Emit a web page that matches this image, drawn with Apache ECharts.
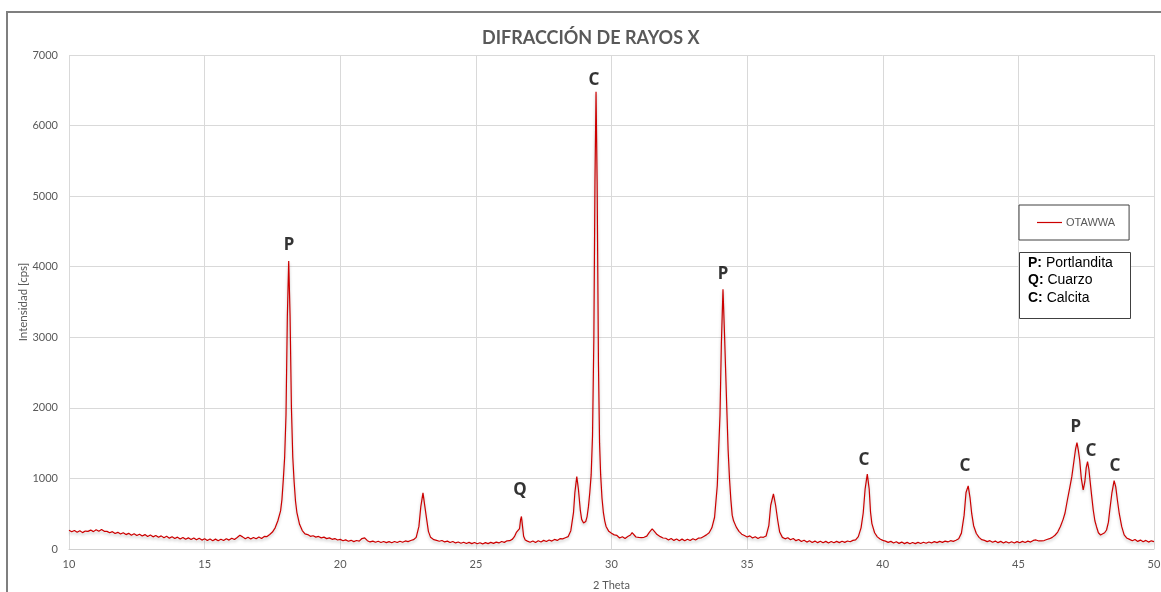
<!DOCTYPE html>
<html>
<head>
<meta charset="utf-8">
<script src="https://cdn.jsdelivr.net/npm/echarts@6/dist/echarts.min.js"></script>
<style>
html,body{margin:0;padding:0;background:#fff;overflow:hidden;}
#chart{width:1161px;height:592px;}
</style>
</head>
<body>
<div id="chart"></div>
<script>
// 2θ positions (degrees)
const twoTheta = [
10.0,10.1,10.2,10.3,10.4,10.5,10.6,10.7,10.8,10.9,11.0,11.1,11.2,11.3,11.4,11.5,11.6,11.7,11.8,11.9,
12.0,12.1,12.2,12.3,12.4,12.5,12.6,12.7,12.8,12.9,13.0,13.1,13.2,13.3,13.4,13.5,13.6,13.7,13.8,13.9,
14.0,14.1,14.2,14.3,14.4,14.5,14.6,14.7,14.8,14.9,15.0,15.1,15.2,15.3,15.4,15.5,15.6,15.7,15.8,15.9,
16.0,16.1,16.2,16.3,16.4,16.5,16.6,16.7,16.8,16.9,17.0,17.1,17.2,17.3,17.4,17.5,17.6,17.7,17.8,17.85,
17.9,17.95,18.0,18.05,18.1,18.15,18.2,18.25,18.3,18.35,18.4,18.5,18.6,18.7,18.8,18.9,19.0,19.1,19.2,19.3,
19.4,19.5,19.6,19.7,19.8,19.9,20.0,20.1,20.2,20.3,20.4,20.5,20.6,20.7,20.8,20.85,20.9,21.0,21.1,21.2,
21.3,21.4,21.5,21.6,21.7,21.8,21.9,22.0,22.1,22.2,22.3,22.4,22.5,22.6,22.7,22.8,22.9,22.97,23.05,23.12,
23.19,23.25,23.33,23.45,23.55,23.65,23.75,23.85,23.95,24.05,24.15,24.25,24.35,24.45,24.55,24.65,24.75,24.85,24.95,25.05,
25.15,25.25,25.35,25.45,25.55,25.65,25.75,25.85,25.95,26.05,26.15,26.25,26.35,26.42,26.5,26.56,26.61,26.65,26.68,26.72,
26.76,26.82,26.9,27.0,27.1,27.2,27.3,27.4,27.5,27.6,27.7,27.8,27.9,28.0,28.1,28.2,28.3,28.4,28.5,28.6,
28.65,28.72,28.78,28.85,28.9,28.97,29.05,29.1,29.15,29.2,29.25,29.3,29.35,29.39,29.43,29.47,29.52,29.56,29.6,29.65,
29.7,29.75,29.8,29.9,30.0,30.1,30.2,30.3,30.4,30.5,30.6,30.7,30.76,30.82,30.9,31.0,31.1,31.2,31.3,31.4,
31.5,31.58,31.68,31.8,31.9,32.0,32.1,32.2,32.3,32.4,32.5,32.6,32.7,32.8,32.9,33.0,33.1,33.2,33.3,33.4,
33.5,33.6,33.7,33.8,33.9,34.0,34.05,34.11,34.17,34.25,34.3,34.35,34.4,34.45,34.5,34.6,34.7,34.8,34.9,35.0,
35.1,35.2,35.3,35.4,35.5,35.6,35.7,35.8,35.87,35.97,36.05,36.13,36.2,36.3,36.4,36.5,36.6,36.7,36.8,36.9,
37.0,37.1,37.2,37.3,37.4,37.5,37.6,37.7,37.8,37.9,38.0,38.1,38.2,38.3,38.4,38.5,38.6,38.7,38.8,38.9,
39.0,39.1,39.2,39.28,39.35,39.43,39.5,39.55,39.6,39.7,39.8,39.9,40.0,40.1,40.2,40.3,40.4,40.5,40.6,40.7,
40.8,40.9,41.0,41.1,41.2,41.3,41.4,41.5,41.6,41.7,41.8,41.9,42.0,42.1,42.2,42.3,42.4,42.5,42.6,42.7,
42.8,42.9,43.0,43.07,43.15,43.22,43.28,43.35,43.45,43.55,43.65,43.75,43.85,43.95,44.05,44.15,44.25,44.35,44.45,44.55,
44.65,44.75,44.85,44.95,45.05,45.15,45.25,45.35,45.45,45.55,45.65,45.75,45.85,45.95,46.05,46.15,46.25,46.35,46.45,46.55,
46.65,46.72,46.8,46.9,46.97,47.05,47.11,47.16,47.21,47.26,47.32,47.39,47.45,47.5,47.55,47.6,47.64,47.7,47.76,47.82,
47.88,47.95,48.03,48.1,48.18,48.25,48.32,48.37,48.45,48.53,48.59,48.65,48.72,48.81,48.9,48.99,49.1,49.2,49.3,49.4,
49.5,49.6,49.7,49.8,49.9,50.0
];
// intensity (cps)
const intensity = [
266,244,262,238,258,232,254,250,268,246,274,252,276,250,250,230,246,220,236,212,
230,204,222,196,216,190,210,184,204,178,198,172,192,166,186,160,180,154,174,148,
168,142,164,138,158,134,156,130,152,126,146,120,142,118,140,116,138,120,146,126,
152,134,164,195,172,144,166,142,164,144,170,150,178,176,205,240,300,400,540,700,
980,1300,1900,3300,4080,3300,2000,1300,950,680,520,350,262,215,204,180,188,168,178,158,
168,147,158,137,148,127,136,117,129,110,123,105,120,112,148,172,158,118,100,112,
95,109,92,106,90,105,89,106,92,110,96,114,104,120,132,165,320,600,795,600,
410,250,165,132,122,110,120,100,112,92,106,86,100,82,96,78,94,76,92,74,
88,72,90,76,94,80,98,86,106,94,116,118,140,175,240,230,290,420,460,320,
180,128,112,96,114,92,116,100,122,106,128,112,136,122,146,144,160,175,260,520,
800,1025,850,550,420,368,390,460,600,800,1050,1600,3000,5200,6480,5200,2600,1500,1050,720,
520,400,320,250,222,200,192,156,174,150,176,198,232,210,170,164,160,166,182,240,
285,250,205,175,156,152,128,148,122,142,118,140,116,138,120,146,128,154,156,178,
200,230,300,450,900,1900,2900,3680,3000,2000,1400,1000,700,480,400,310,250,210,190,170,
186,156,174,150,170,166,184,330,620,780,620,400,240,165,144,160,132,148,118,134,
106,124,98,116,92,112,90,110,88,108,86,106,88,108,90,110,94,114,102,122,
130,175,300,510,850,1060,850,520,360,230,172,142,122,112,94,108,86,102,80,98,
76,94,74,92,76,94,78,96,82,100,86,104,90,108,94,112,100,118,108,125,
145,225,480,800,895,720,500,330,220,165,132,122,104,118,96,112,90,108,86,104,
84,102,86,104,88,108,92,112,98,122,128,114,116,120,134,146,165,195,240,320,
420,510,680,880,1025,1250,1420,1506,1400,1261,1000,836,950,1150,1237,1130,978,760,553,400,
316,230,198,205,230,269,380,553,800,968,880,694,500,316,200,156,136,116,134,108,
126,102,122,98,116,104
];
// peak annotations (phase letter, label anchor in data units)
const annX = [18.11, 26.63, 29.35, 34.11, 39.31, 43.03, 47.12, 47.68, 48.56];
const annY = [4300, 840, 6640, 3890, 1260, 1180, 1730, 1390, 1180];
const annText = ['P', 'Q', 'C', 'P', 'C', 'C', 'P', 'C', 'C'];
const xTicks = {min: 10, max: 50, step: 5};
const yTicks = {min: 0, max: 7000, step: 1000};
const seriesName = 'OTAWWA';
const keyLines = [['P', 'Portlandita'], ['Q', 'Cuarzo'], ['C', 'Calcita']];

const chart = echarts.init(document.getElementById('chart'), null, {renderer: 'canvas'});
const lineData = twoTheta.map((x, i) => [x, intensity[i]]);
const annData = annX.map((x, i) => ({value: [x, annY[i]], name: annText[i]}));
const font = 'Lato, "Open Sans", sans-serif';

chart.setOption({
  animation: false,
  backgroundColor: '#fff',
  title: {
    text: 'DIFRACCIÓN DE RAYOS X',
    left: 477,
    top: 24,
    textStyle: {fontFamily: font, fontWeight: 'bold', fontSize: 18, color: '#595959'}
  },
  grid: {left: 69, right: 7, top: 55, bottom: 43, containLabel: false, outerBoundsMode: 'none'},
  legend: {
    data: [seriesName],
    left: 1019,
    top: 205,
    orient: 'horizontal',
    borderColor: '#404040',
    borderWidth: 1,
    padding: [12, 14, 12, 18],
    itemWidth: 25,
    itemHeight: 14,
    itemGap: 4,
    icon: 'path://M0,6 L25,6 L25,7.2 L0,7.2 Z',
    textStyle: {fontFamily: '"Liberation Sans", Arial, sans-serif', fontSize: 11, color: '#595959', padding: [0, 0, 0, -1]}
  },
  xAxis: {
    type: 'value',
    min: xTicks.min, max: xTicks.max, interval: xTicks.step,
    name: '2 Theta',
    nameLocation: 'middle',
    nameGap: 31,
    nameMoveOverlap: false,
    nameTextStyle: {fontFamily: font, fontSize: 11, color: '#595959'},
    axisLine: {show: true, lineStyle: {color: '#d0d0d0', width: 1}},
    axisTick: {show: false},
    axisLabel: {fontFamily: font, fontSize: 11, color: '#595959', margin: 10},
    splitLine: {show: true, lineStyle: {color: '#d9d9d9', width: 1}}
  },
  yAxis: {
    type: 'value',
    min: yTicks.min, max: yTicks.max, interval: yTicks.step,
    name: 'Intensidad [cps]',
    nameLocation: 'middle',
    nameGap: 40,
    nameMoveOverlap: false,
    nameTextStyle: {fontFamily: font, fontSize: 11.5, color: '#595959'},
    axisLine: {show: false},
    axisTick: {show: false},
    axisLabel: {fontFamily: font, fontSize: 11, color: '#595959', margin: 11, formatter: v => String(v)},
    splitLine: {show: true, lineStyle: {color: '#d9d9d9', width: 1}}
  },
  series: [
    {
      name: seriesName,
      type: 'line',
      data: lineData,
      showSymbol: false,
      symbol: 'none',
      lineStyle: {color: '#cc0000', width: 1.2, shadowColor: 'rgba(0,0,0,0.25)', shadowBlur: 3, shadowOffsetY: 2},
      itemStyle: {color: '#cc0000'},
      z: 3
    },
    {
      name: 'labels',
      type: 'scatter',
      data: annData,
      symbolSize: 0,
      silent: true,
      label: {
        show: true,
        position: 'inside',
        formatter: p => p.name,
        fontFamily: '"Noto Sans", "Open Sans", sans-serif',
        fontWeight: 'bold',
        fontSize: 17,
        color: '#000'
      },
      z: 5
    }
  ],
  graphic: [
    {
      type: 'rect',
      shape: {x: 7, y: 12, width: 1170, height: 600},
      style: {fill: 'none', stroke: '#7f7f7f', lineWidth: 2},
      silent: true,
      z: 100
    },
    {
      type: 'rect',
      shape: {x: 1019.5, y: 252.5, width: 111, height: 66},
      style: {fill: '#fff', stroke: '#404040', lineWidth: 1},
      z: 50
    },
    {
      type: 'text',
      left: 1028,
      top: 256,
      z: 51,
      style: {
        text: keyLines.map(k => '{b|' + k[0] + ':}{n| ' + k[1] + '}').join('\n'),
        rich: {
          b: {fontFamily: '"Liberation Sans", Arial, sans-serif', fontWeight: 'bold', fontSize: 14, color: '#000', lineHeight: 17.5},
          n: {fontFamily: '"Liberation Sans", Arial, sans-serif', fontSize: 14, color: '#000', lineHeight: 17.5}
        }
      }
    }
  ]
});
</script>
</body>
</html>
